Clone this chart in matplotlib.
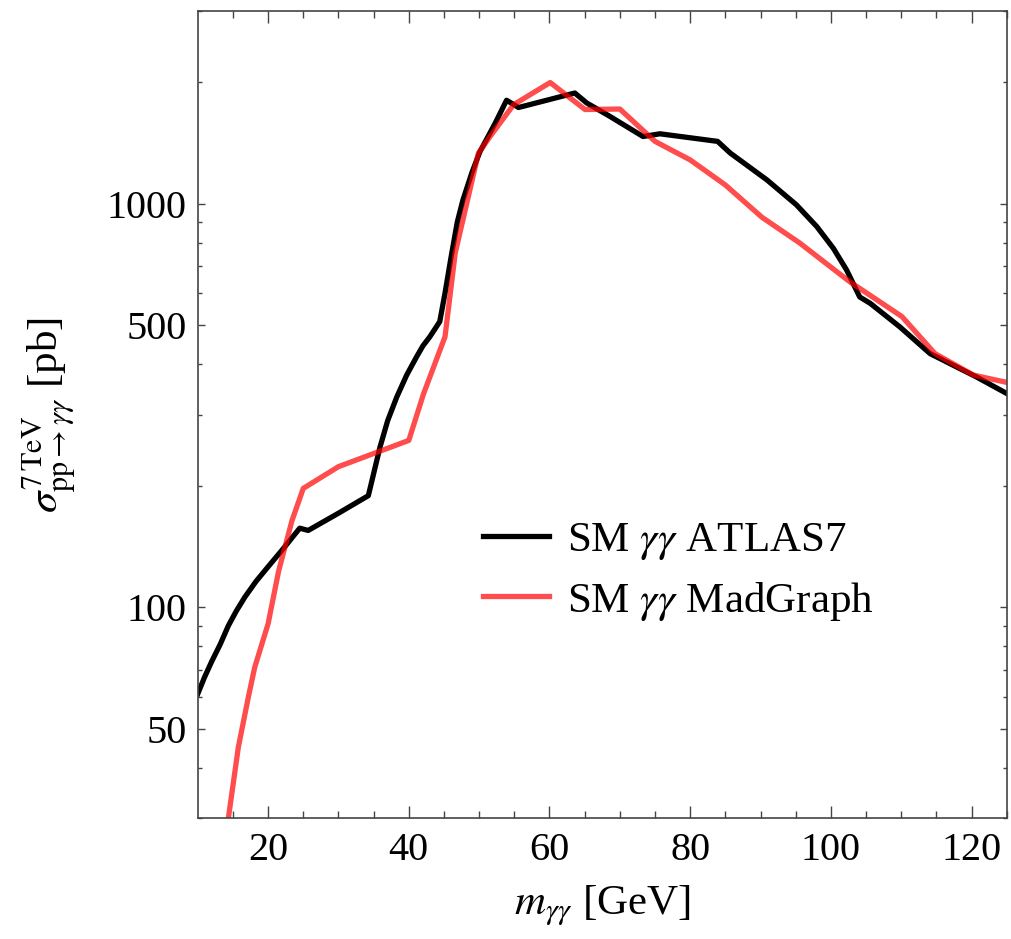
import matplotlib.pyplot as plt
from matplotlib.ticker import FixedLocator, NullFormatter

plt.rcParams['font.family'] = ['Liberation Serif', 'DejaVu Serif']
plt.rcParams['mathtext.fontset'] = 'stix'

# SM gamma-gamma ATLAS7 (black)
atlas_m = [10, 10.95, 12.0, 13.2, 14.35, 15.5, 16.7, 18.3, 20.0, 22.2, 24.5, 25.7, 30, 34.25,
           35.9, 37.0, 38.3, 39.7, 41.1, 42.0, 43.0, 44.4, 45.15, 46.0, 46.9, 47.7, 48.95,
           50.1, 52.3, 53.9, 55.6, 63.6, 65.3, 68.6, 73.3, 75.7, 83.9, 85.7, 90.9, 95.1,
           98.0, 100.35, 102.25, 104.1, 105.6, 109.8, 114.1, 120.7, 125.2]
atlas_xs = [61, 67, 73.5, 81, 90, 98, 106, 116, 126, 140, 157, 155, 171, 189,
            249, 290, 332, 376, 417, 444, 468, 510, 600, 735, 901, 1021, 1190,
            1343, 1584, 1803, 1730, 1879, 1775, 1644, 1466, 1489, 1426, 1334, 1145, 993,
            877, 775, 684, 587, 566, 495, 425, 372, 337]

# SM gamma-gamma MadGraph (red)
mg_m = [14.35, 15.77, 17.2, 18.1, 20.0, 21.5, 23.4, 25.0, 30.0, 40.0, 42.1, 45.15,
        46.6, 49.9, 51.55, 54.9, 60.1, 65.05, 70.0, 75.0, 80.0, 85.0, 90.2, 95.6,
        102.7, 110.1, 114.8, 120.25, 125.2]
mg_xs = [30, 45, 60, 71, 91, 123, 164, 197, 223, 259, 338, 468,
         754, 1334, 1466, 1758, 1995, 1710, 1715, 1426, 1283, 1112, 925, 798,
         640, 525, 425, 376, 360]

x_major = [20, 40, 60, 80, 100, 120]
x_minor = [15, 25, 30, 35, 45, 50, 55, 65, 70, 75, 85, 90, 95, 105, 110, 115, 125]
y_major = [50, 100, 500, 1000]
y_minor = [30, 40, 60, 70, 80, 90, 200, 300, 400, 600, 700, 800, 900, 2000, 3000]

fig = plt.figure(figsize=(10.12, 9.39), dpi=100)
ax = fig.add_axes([0.1954, 0.1285, 0.7994, 0.8598])

ax.plot(atlas_m, atlas_xs, color='black', lw=3.8, label=r'SM $\gamma\gamma$ ATLAS7')
ax.plot(mg_m, mg_xs, color='red', alpha=0.7, lw=3.8, label=r'SM $\gamma\gamma$ MadGraph')

ax.set_yscale('log')
ax.set_xlim(10, 125)
ax.set_ylim(30, 3000)

ax.xaxis.set_major_locator(FixedLocator(x_major))
ax.xaxis.set_minor_locator(FixedLocator(x_minor))
ax.yaxis.set_major_locator(FixedLocator(y_major))
ax.yaxis.set_minor_locator(FixedLocator(y_minor))
ax.set_yticklabels([str(v) for v in y_major])
ax.yaxis.set_minor_formatter(NullFormatter())

ax.tick_params(which='both', direction='in', top=True, right=True,
               labelsize=29, colors='#444444', labelcolor='black', width=1)
ax.tick_params(axis='x', which='major', length=8.4, pad=10)
ax.tick_params(axis='x', which='minor', length=4.8)
ax.tick_params(axis='y', which='major', length=4.8, pad=8)
ax.tick_params(axis='y', which='minor', length=2.9)
for s in ax.spines.values():
    s.set_color('#444444')
    s.set_linewidth(1.2)

ax.set_xlabel(r'$m_{\gamma\gamma}$ [GeV]', fontsize=31, labelpad=10)
ax.set_ylabel(r'$\sigma^{7\,\mathrm{TeV}}_{\mathrm{pp}\to\gamma\gamma}$ [pb]', fontsize=31,
              labelpad=20)

ax.legend(loc='center left', bbox_to_anchor=(0.477, 0.391), bbox_transform=fig.transFigure,
          frameon=False, fontsize=31, handlelength=1.53, handletextpad=0.42,
          borderpad=0, borderaxespad=0, labelspacing=0.4)

fig.savefig('out.png', dpi=100)
